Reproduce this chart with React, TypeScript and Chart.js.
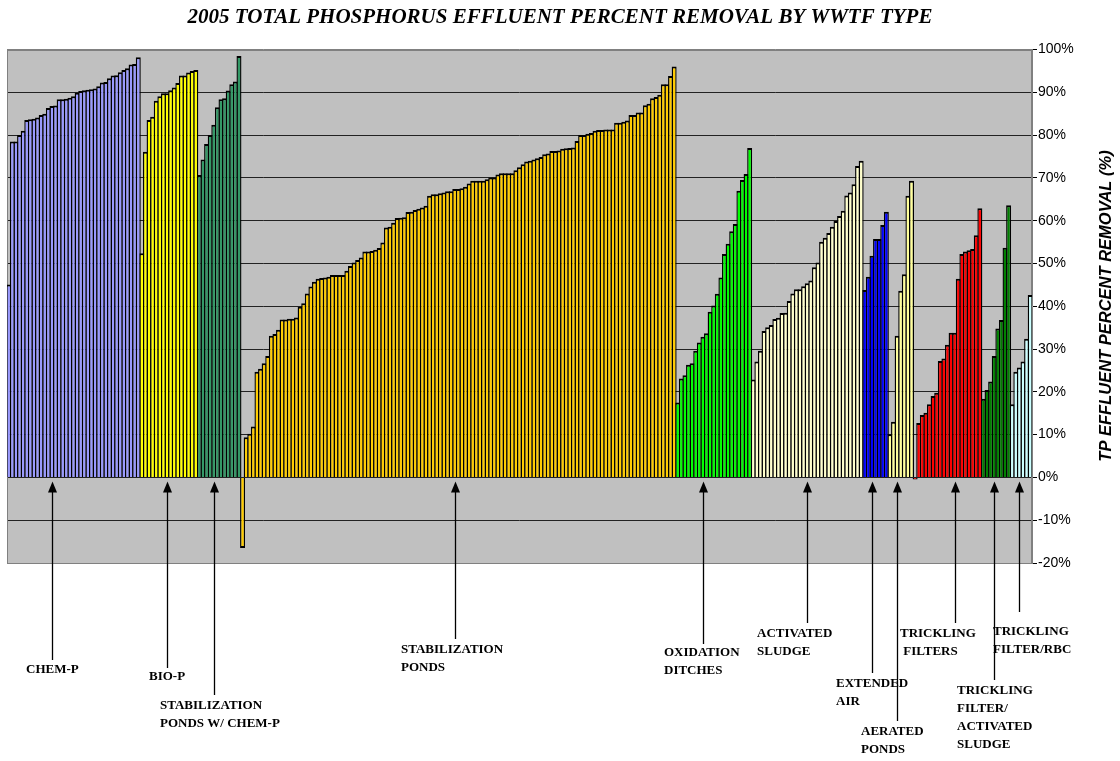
import { useEffect, useRef } from "react";
import { Chart, registerables } from "chart.js";

Chart.register(...registerables);

// ---- Data (percent TP removal, sorted within each WWTF type) ----
const chemP = [45.1, 78.5, 78.5, 80.0, 81.0, 83.5, 83.7, 83.8, 84.1, 84.7, 85.0, 86.3, 86.8, 86.9, 88.4, 88.4, 88.5, 88.7, 89.1, 89.9, 90.3, 90.5, 90.6, 90.7, 90.9, 91.4, 92.3, 92.4, 93.3, 93.9, 94.0, 94.7, 95.2, 95.6, 96.5, 96.6, 98.2];
const bioP = [52.4, 76.1, 83.5, 84.3, 88.0, 89.1, 89.8, 89.8, 90.5, 91.1, 92.2, 93.9, 93.9, 94.6, 95.0, 95.2];
const stabPondsChemP = [70.7, 74.3, 77.9, 80.0, 82.4, 86.5, 88.4, 88.6, 90.4, 91.9, 92.5, 98.5];
const stabPonds = [
  -16.5, 9.4, 10.2, 11.9, 24.7, 25.4, 26.7, 28.4, 33.1, 33.5, 34.5, 36.9, 36.9, 37.1, 37.1, 37.4, 39.9, 40.7, 43.0, 44.6,
  45.7, 46.4, 46.6, 46.7, 46.9, 47.3, 47.3, 47.3, 47.3, 48.3, 49.4, 50.2, 50.8, 51.4, 52.8, 52.8, 52.9, 53.2, 53.6, 54.9,
  58.4, 58.6, 59.5, 60.6, 60.7, 60.8, 62.0, 62.1, 62.5, 62.8, 63.1, 63.5, 65.8, 66.2, 66.2, 66.4, 66.6, 66.9, 66.9, 67.4,
  67.4, 67.6, 67.9, 68.7, 69.3, 69.3, 69.3, 69.3, 69.7, 70.1, 70.1, 70.8, 71.1, 71.1, 71.1, 71.1, 71.8, 72.5, 73.2, 73.8,
  74.0, 74.3, 74.6, 74.9, 75.5, 75.7, 76.3, 76.3, 76.4, 76.8, 76.9, 77.0, 77.1, 78.6, 80.0, 80.0, 80.3, 80.5, 81.0, 81.2,
  81.2, 81.3, 81.3, 81.3, 82.9, 82.9, 83.1, 83.4, 84.7, 84.7, 85.3, 85.3, 87.0, 87.3, 88.6, 88.9, 89.4, 91.9, 91.9, 93.8,
  96.0,
];
const oxidationDitches = [17.5, 23.1, 23.9, 26.3, 26.7, 29.6, 31.5, 32.9, 33.7, 38.7, 40.2, 42.9, 46.7, 52.2, 54.6, 57.5, 59.2, 67.0, 69.5, 70.9, 77.0];
const activatedSludge = [22.9, 27.1, 29.6, 34.2, 35.1, 35.6, 37.0, 37.3, 38.4, 38.5, 41.2, 43.0, 44.0, 44.0, 44.7, 45.4, 46.0, 49.1, 50.2, 55.1, 56.0, 57.1, 58.6, 59.9, 61.1, 62.3, 65.9, 66.6, 68.5, 72.8, 74.0];
const extendedAir = [43.8, 46.9, 51.8, 55.7, 55.7, 59.0, 62.1];
const aeratedPonds = [10.1, 13.0, 33.1, 43.6, 47.5, 65.8, 69.3];
const tricklingFilters = [-0.5, 12.7, 14.6, 15.1, 17.1, 19.0, 19.8, 27.2, 27.8, 31.0, 33.8, 33.8, 46.4, 52.2, 52.8, 53.1, 53.4, 56.6, 62.9];
const tfActivatedSludge = [18.4, 20.4, 22.4, 28.4, 34.8, 36.8, 53.7, 63.6];
const tfRbc = [17.1, 24.7, 25.7, 27.1, 32.4, 42.6];

const groupNames = [
  "CHEM-P", "BIO-P", "STABILIZATION PONDS W/ CHEM-P", "STABILIZATION PONDS", "OXIDATION DITCHES",
  "ACTIVATED SLUDGE", "EXTENDED AIR", "AERATED PONDS", "TRICKLING FILTERS",
  "TRICKLING FILTER/ ACTIVATED SLUDGE", "TRICKLING FILTER/RBC",
];
const groupValues = [
  chemP, bioP, stabPondsChemP, stabPonds, oxidationDitches, activatedSludge,
  extendedAir, aeratedPonds, tricklingFilters, tfActivatedSludge, tfRbc,
];
const groupColors = [
  "#9999FF", "#FFFF00", "#339966", "#FFCC00", "#00FF00", "#FFFFCC",
  "#0000FF", "#FFFF99", "#FF0000", "#008000", "#CCFFFF",
];

const yMin = -20;
const yMax = 100;
const yStep = 10;

const titleText = "2005 TOTAL PHOSPHORUS EFFLUENT PERCENT REMOVAL BY WWTF TYPE";
const axisTitleText = "TP EFFLUENT PERCENT REMOVAL (%)";

// Annotation labels: which group, which bar within it the arrow points at, and label placement
const annotations = [
  { group: 0, bar: 12, lines: ["CHEM-P"], x: 26, y: 670, tail: 660 },
  { group: 1, bar: 7, lines: ["BIO-P"], x: 149, y: 677, tail: 668 },
  { group: 2, bar: 4, lines: ["STABILIZATION", "PONDS W/ CHEM-P"], x: 160, y: 706, tail: 695 },
  { group: 3, bar: 59, lines: ["STABILIZATION", "PONDS"], x: 401, y: 650, tail: 639 },
  { group: 4, bar: 7, lines: ["OXIDATION", "DITCHES"], x: 664, y: 653, tail: 644 },
  { group: 5, bar: 15, lines: ["ACTIVATED", "SLUDGE"], x: 757, y: 634, tail: 623 },
  { group: 6, bar: 2, lines: ["EXTENDED", "AIR"], x: 836, y: 684, tail: 673 },
  { group: 7, bar: 2, lines: ["AERATED", "PONDS"], x: 861, y: 732, tail: 721 },
  { group: 8, bar: 11, lines: ["TRICKLING", " FILTERS"], x: 900, y: 634, tail: 623 },
  { group: 9, bar: 3, lines: ["TRICKLING", "FILTER/", "ACTIVATED", "SLUDGE"], x: 957, y: 691, tail: 680 },
  { group: 10, bar: 2, lines: ["TRICKLING", "FILTER/RBC"], x: 993, y: 632, tail: 612 },
];

const sideBorder = 1.4;

export default function App() {
  const canvasRef = useRef<HTMLCanvasElement | null>(null);

  useEffect(() => {
    const canvas = canvasRef.current;
    if (!canvas) return;

    const values: number[] = [];
    const colors: string[] = [];
    const labels: string[] = [];
    const groupStart: number[] = [];
    groupValues.forEach((arr, g) => {
      groupStart.push(values.length);
      arr.forEach((v, i) => {
        values.push(v);
        colors.push(groupColors[g]);
        labels.push(groupNames[g] + " " + (i + 1));
      });
    });

    const decorPlugin = {
      id: "decor",
      beforeDraw(chart: any) {
        const { ctx, chartArea } = chart;
        ctx.save();
        ctx.fillStyle = "#C0C0C0";
        ctx.fillRect(chartArea.left, chartArea.top, chartArea.right - chartArea.left, chartArea.bottom - chartArea.top);
        ctx.restore();
      },
      beforeDatasetsDraw(chart: any) {
        const { ctx, chartArea } = chart;
        ctx.save();
        ctx.strokeStyle = "#808080";
        ctx.lineWidth = 1;
        ctx.strokeRect(Math.round(chartArea.left) + 0.5, Math.round(chartArea.top) + 0.5,
          Math.round(chartArea.right - chartArea.left) - 1, Math.round(chartArea.bottom - chartArea.top) - 1);
        ctx.restore();
      },
      afterDraw(chart: any) {
        const { ctx } = chart;
        const xs = chart.scales.x;
        const ys = chart.scales.y;
        ctx.save();
        // Title
        ctx.fillStyle = "#000";
        ctx.font = "bold italic 21px 'Liberation Serif'";
        ctx.textAlign = "center";
        ctx.textBaseline = "middle";
        ctx.fillText(titleText, 560, 18);

        // Right axis title, reading bottom to top
        ctx.save();
        ctx.translate(1106, 306);
        ctx.rotate(-Math.PI / 2);
        ctx.font = "bold italic 16.5px 'Liberation Sans'";
        ctx.textAlign = "center";
        ctx.textBaseline = "middle";
        ctx.fillText(axisTitleText, 0, 0);
        ctx.restore();

        // Annotation arrows and labels
        const zeroY = ys.getPixelForValue(0);
        const tipY = zeroY + 4;
        annotations.forEach((a) => {
          const idx = groupStart[a.group] + a.bar;
          const ax = Math.round(xs.getPixelForValue(idx)) + 0.5;
          ctx.strokeStyle = "#000";
          ctx.lineWidth = 1.3;
          ctx.beginPath();
          ctx.moveTo(ax, a.tail);
          ctx.lineTo(ax, tipY + 9);
          ctx.stroke();
          ctx.fillStyle = "#000";
          ctx.beginPath();
          ctx.moveTo(ax, tipY);
          ctx.lineTo(ax - 4.5, tipY + 11);
          ctx.lineTo(ax + 4.5, tipY + 11);
          ctx.closePath();
          ctx.fill();

          ctx.font = "bold 13px 'Liberation Serif'";
          ctx.textAlign = "left";
          ctx.textBaseline = "middle";
          a.lines.forEach((line, li) => {
            ctx.fillText(line, a.x, a.y + li * 17.8);
          });
        });
        ctx.restore();
      },
    };

    const pitchRatio = 1 + sideBorder / 3.596;

    const chart = new Chart(canvas, {
      type: "bar",
      data: {
        labels,
        datasets: [
          {
            data: values,
            backgroundColor: colors,
            borderColor: "#000000",
            borderWidth: { top: 2, right: sideBorder, bottom: 2, left: sideBorder } as any,
            borderSkipped: "start",
            barPercentage: pitchRatio,
            categoryPercentage: 1,
            inflateAmount: 0,
          } as any,
        ],
      },
      options: {
        animation: false,
        responsive: false,
        devicePixelRatio: 1,
        layout: { padding: { left: 7, top: 49.5, bottom: 198, right: 0 } },
        plugins: {
          legend: { display: false },
          tooltip: { enabled: false },
          title: { display: false },
        },
        scales: {
          x: { type: "category", display: false, offset: true },
          y: {
            position: "right",
            min: yMin,
            max: yMax,
            ticks: {
              stepSize: yStep,
              color: "#000",
              padding: 1,
              font: { family: "'Liberation Sans'", size: 14 },
              callback: (v: any) => v + "%",
            },
            grid: {
              color: (c: any) => (c.tick && (c.tick.value === yMax || c.tick.value === yMin) ? "#808080" : "#222"),
              lineWidth: 1,
              drawTicks: true,
              tickLength: 5,
              tickColor: "#000",
            },
            border: { display: true, color: "#808080" },
            afterFit: (s: any) => {
              s.width = 88;
            },
          },
        },
      } as any,
      plugins: [decorPlugin],
    });

    return () => chart.destroy();
  }, []);

  return (
    <div style={{ position: "absolute", left: 0, top: 0, width: 1120, height: 761, background: "#fff" }}>
      <canvas ref={canvasRef} width={1120} height={761} />
    </div>
  );
}
